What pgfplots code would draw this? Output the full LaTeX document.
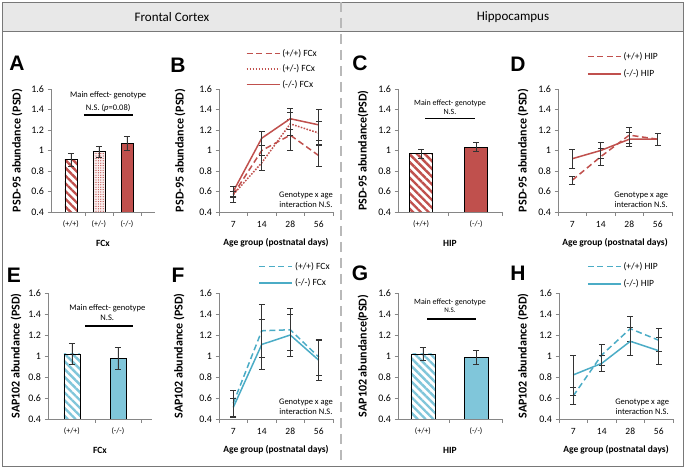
\documentclass[border=0pt]{standalone}
\usepackage{fontspec}
\setmainfont{Carlito}
\newfontfamily\arialf{Liberation Sans}
\usepackage{pgfplots}
\pgfplotsset{compat=1.18}
\usetikzlibrary{patterns.meta}

\definecolor{fcRed}{RGB}{192,80,77}
\definecolor{hipBlue}{RGB}{75,172,198}
\definecolor{barBlue}{RGB}{128,198,218}
\definecolor{axGray}{RGB}{134,134,134}
\definecolor{frameGray}{RGB}{120,120,120}

\newcommand{\fsz}[2]{\fontsize{#1}{#2}\selectfont}

\pgfplotsset{
  panel/.style={
    scale only axis, anchor=south west,
    ymin=0.4, ymax=1.6, ytick={0.4,0.6,0.8,1,1.2,1.4,1.6},
    axis x line*=bottom, axis y line*=left,
    axis line style={axGray, line width=0.6pt, -},
    every tick/.style={axGray, line width=0.6pt},
    tick align=outside, major tick length=3.5pt, minor tick length=4pt,
    major x tick style={draw=none},
    yticklabel style={font=\fsz{10}{12}, /pgf/number format/.cd, fixed, precision=1, assume math mode=true},
    xticklabel style={font=\fsz{8}{10}, yshift=-2pt},
    xlabel style={font=\bfseries\fsz{9.5}{11}, at={(axis description cs:0.5,0)}, anchor=center, yshift=-31pt},
    ylabel style={font=\bfseries\fsz{12}{14}, anchor=center},
    clip mode=individual,
  },
  toprow/.style={height=123pt},
  botrow/.style={height=126pt},
  agepanel/.style={panel, width=114pt, xmin=0.5, xmax=4.5,
    xtick={1,2,3,4}, xticklabels={7,14,28,56},
    minor xtick={0.5,1.5,2.5,3.5,4.5},
    xticklabel style={font=\fsz{9.5}{11}},
    xlabel={Age group (postnatal days)},
    legend image code/.code={\draw[#1, line width=1.5pt] (0pt,0pt) -- (33pt,0pt);},
    legend cell align=left,
    legend style={draw=none, fill=none, font=\fsz{9.5}{11}, anchor=north east,
                  inner sep=0pt, row sep=3pt}},
  ebar/.style={error bars/y dir=both, error bars/y explicit,
    error bars/error bar style={black!80, line width=0.6pt, solid},
    error bars/error mark options={rotate=90, black!80, mark size=3pt, line width=0.6pt, solid}},
  redline/.style={fcRed, line width=1.5pt},
  blueline/.style={hipBlue, line width=1.5pt},
  dashedln/.style={dash pattern=on 6pt off 3.5pt},
  dottedln/.style={dash pattern=on 1.6pt off 1.4pt},
  onebar/.style={ybar, bar shift=0pt, bar width=#1, draw=black, line width=0.7pt},
  redstripe/.style={pattern={Lines[angle=-45,distance=5.5pt,line width=2.4pt]}, pattern color=fcRed},
  bluestripe/.style={pattern={Lines[angle=-45,distance=5.5pt,line width=2.4pt]}, pattern color=barBlue},
}

\begin{document}
\begin{tikzpicture}
\useasboundingbox (0pt,0pt) rectangle (685pt,468pt);
% header band, frame and divider
\fill[gray!18] (2pt,437pt) rectangle (683pt,466pt);
\draw[frameGray, line width=0.8pt] (2pt,2pt) rectangle (683pt,466pt);
\draw[frameGray, line width=0.6pt] (2pt,437pt) -- (683pt,437pt);
\draw[gray!55, line width=2.5pt, dash pattern=on 10pt off 6pt] (341pt,466pt) -- (341pt,2pt);
\node[font=\fsz{13}{15}] at (172pt,451pt) {Frontal Cortex};
\node[font=\fsz{13}{15}] at (513pt,451pt) {Hippocampus};

% ---- A: PSD-95, FCx, bars
\begin{axis}[panel, toprow, at={(51pt,256pt)}, width=104pt,
    xmin=0.29, xmax=4.0, xtick={1,2,3}, xticklabels={(+/+),(+/-),(-/-)},
    minor xtick={1.5,2.5,3.5}, xlabel={FCx},
    ylabel={PSD-95 abundance (PSD)},
    ylabel style={at={(axis description cs:-0.327,0.5)}}]
\addplot[onebar=12pt, redstripe, ebar] coordinates {(1,0.91) +- (0,0.06)};
\addplot[onebar=12pt, preaction={fill=fcRed!8}, pattern={Dots[distance=2.4pt,radius=0.65pt]},
         pattern color=fcRed, ebar] coordinates {(2,0.99) +- (0,0.055)};
\addplot[onebar=12pt, fill=fcRed, ebar] coordinates {(3,1.07) +- (0,0.07)};
\node[font=\fsz{8.5}{10}] at (axis description cs:0.55,0.951) {Main effect- genotype};
\node[font=\fsz{8.5}{10}] at (axis description cs:0.55,0.846) {N.S. (\textit{p}=0.08)};
\draw[black, line width=1.3pt] (axis description cs:0.317,0.789) -- (axis description cs:0.79,0.789);
\end{axis}

% ---- B: PSD-95, FCx, age
\begin{axis}[agepanel, toprow, at={(219pt,256pt)},
    ylabel={PSD-95 abundance (PSD)},
    ylabel style={at={(axis description cs:-0.342,0.5)}},
    legend style={at={(axis description cs:0.877,1.34)}}]
\addplot[redline, dashedln, ebar] coordinates {
  (1,0.57) +- (0,0.08) (2,1.00) +- (0,0.05) (3,1.15) +- (0,0.15) (4,0.95) +- (0,0.10)};
\addlegendentry{(+/+) FCx}
\addplot[redline, dottedln, ebar] coordinates {
  (1,0.57) +- (0,0.03) (2,0.88) +- (0,0.07) (3,1.26) +- (0,0.11) (4,1.17) +- (0,0.11)};
\addlegendentry{(+/-) FCx}
\addplot[redline, ebar] coordinates {
  (1,0.60) +- (0,0.05) (2,1.12) +- (0,0.07) (3,1.31) +- (0,0.10) (4,1.25) +- (0,0.15)};
\addlegendentry{(-/-) FCx}
\node[font=\fsz{8.5}{10}, align=center] at (axis description cs:0.763,0.1) {Genotype x age\\interaction N.S.};
\end{axis}

% ---- C: PSD-95, HIP, bars
\begin{axis}[panel, toprow, at={(398pt,256pt)}, width=104pt,
    xmin=0.58, xmax=2.47, xtick={1,2}, xticklabels={(+/+),(-/-)},
    minor xtick={1.5,2.47}, xlabel={HIP},
    ylabel={PSD-95 abundance(PSD)},
    ylabel style={at={(axis description cs:-0.337,0.5)}}]
\addplot[onebar=23pt, redstripe, ebar] coordinates {(1,0.97) +- (0,0.045)};
\addplot[onebar=23pt, fill=fcRed, ebar] coordinates {(2,1.035) +- (0,0.045)};
\node[font=\fsz{8}{10}] at (axis description cs:0.5,0.886) {Main effect- genotype};
\node[font=\fsz{8}{10}] at (axis description cs:0.5,0.815) {N.S.};
\draw[black, line width=1.3pt] (axis description cs:0.26,0.76) -- (axis description cs:0.74,0.76);
\end{axis}

% ---- D: PSD-95, HIP, age
\begin{axis}[agepanel, toprow, at={(558pt,256pt)},
    ylabel={PSD-95 abundance (PSD)},
    ylabel style={at={(axis description cs:-0.307,0.5)}},
    legend style={at={(axis description cs:0.895,1.317)}, row sep=5pt}]
\addplot[redline, dashedln, ebar] coordinates {
  (1,0.71) +- (0,0.04) (2,0.94) +- (0,0.08) (3,1.15) +- (0,0.08) (4,1.11) +- (0,0.06)};
\addlegendentry{(+/+) HIP}
\addplot[redline, ebar] coordinates {
  (1,0.92) +- (0,0.09) (2,1.00) +- (0,0.08) (3,1.11) +- (0,0.07) (4,1.11) +- (0,0.055)};
\addlegendentry{(-/-) HIP}
\node[font=\fsz{8.5}{10}, align=center] at (axis description cs:0.73,0.1) {Genotype x age\\interaction N.S.};
\end{axis}

% ---- E: SAP102, FCx, bars
\begin{axis}[panel, botrow, at={(48pt,49pt)}, width=104pt,
    xmin=0.48, xmax=2.74, xtick={1,2}, xticklabels={(+/+),(-/-)},
    minor xtick={1.5,2.5}, xlabel={FCx},
    ylabel={SAP102 abundance (PSD)},
    ylabel style={at={(axis description cs:-0.308,0.5)}}]
\addplot[onebar=16pt, bluestripe, ebar] coordinates {(1,1.02) +- (0,0.10)};
\addplot[onebar=16pt, fill=barBlue, ebar] coordinates {(2,0.98) +- (0,0.105)};
\node[font=\fsz{8.5}{10}] at (axis description cs:0.57,0.881) {Main effect- genotype};
\node[font=\fsz{8.5}{10}] at (axis description cs:0.57,0.802) {N.S.};
\draw[black, line width=1.3pt] (axis description cs:0.356,0.738) -- (axis description cs:0.817,0.738);
\end{axis}

% ---- F: SAP102, FCx, age
\begin{axis}[agepanel, botrow, at={(219pt,49pt)},
    ylabel={SAP102 abundance (PSD)},
    ylabel style={at={(axis description cs:-0.35,0.5)}},
    legend style={at={(axis description cs:0.99,1.262)}, row sep=4pt}]
\addplot[blueline, dashedln, ebar] coordinates {
  (1,0.55) +- (0,0.12) (2,1.24) +- (0,0.25) (3,1.25) +- (0,0.20) (4,0.99) +- (0,0.17)};
\addlegendentry{(+/+) FCx}
\addplot[blueline, ebar] coordinates {
  (1,0.51) +- (0,0.09) (2,1.11) +- (0,0.24) (3,1.20) +- (0,0.20) (4,0.96) +- (0,0.19)};
\addlegendentry{(-/-) FCx}
\node[font=\fsz{8.5}{10}, align=center] at (axis description cs:0.763,0.1) {Genotype x age\\interaction N.S.};
\end{axis}

% ---- G: SAP102, HIP, bars
\begin{axis}[panel, botrow, at={(398pt,49pt)}, width=104pt,
    xmin=0.53, xmax=2.49, xtick={1,2}, xticklabels={(+/+),(-/-)},
    minor xtick={1.5,2.49}, xlabel={HIP},
    ylabel={SAP102 abundance(PSD)},
    ylabel style={at={(axis description cs:-0.337,0.5)}}]
\addplot[onebar=24pt, bluestripe, ebar] coordinates {(1,1.02) +- (0,0.06)};
\addplot[onebar=24pt, fill=barBlue, ebar] coordinates {(2,0.985) +- (0,0.065)};
\node[font=\fsz{8}{10}] at (axis description cs:0.5,0.929) {Main effect- genotype};
\node[font=\fsz{7}{9}] at (axis description cs:0.5,0.865) {N.S.};
\draw[black, line width=1.3pt] (axis description cs:0.28,0.794) -- (axis description cs:0.75,0.794);
\end{axis}

% ---- H: SAP102, HIP, age
\begin{axis}[agepanel, botrow, at={(559pt,49pt)},
    ylabel={SAP102 abundance (PSD)},
    ylabel style={at={(axis description cs:-0.316,0.5)}},
    legend style={at={(axis description cs:0.886,1.262)}, row sep=5pt}]
\addplot[blueline, dashedln, ebar] coordinates {
  (1,0.62) +- (0,0.08) (2,1.01) +- (0,0.10) (3,1.26) +- (0,0.12) (4,1.15) +- (0,0.11)};
\addlegendentry{(+/+) HIP}
\addplot[blueline, ebar] coordinates {
  (1,0.82) +- (0,0.19) (2,0.93) +- (0,0.08) (3,1.14) +- (0,0.13) (4,1.05) +- (0,0.13)};
\addlegendentry{(-/-) HIP}
\node[font=\fsz{8.5}{10}, align=center] at (axis description cs:0.73,0.1) {Genotype x age\\interaction N.S.};
\end{axis}

% panel letters
\foreach \l/\x/\y in {A/17/405, B/178/403, C/360/405, D/518/404, E/14/193, F/178/193, G/360/195, H/518/195}
  \node[font=\arialf\bfseries\fsz{21}{22}] at (\x pt,\y pt) {\l};
\end{tikzpicture}
\end{document}
